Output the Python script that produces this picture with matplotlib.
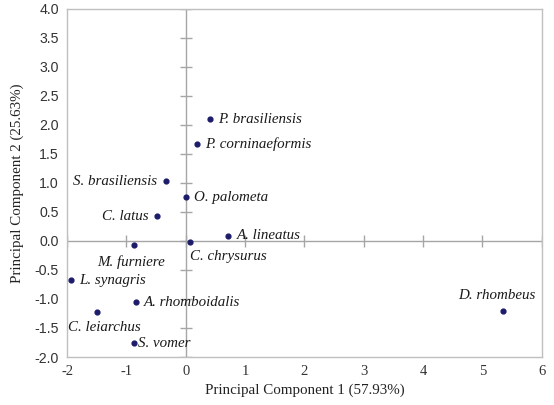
import matplotlib
matplotlib.use("Agg")
import matplotlib.pyplot as plt
import numpy as np

# species scores on the first two principal components
species = ["P. brasiliensis", "P. corninaeformis", "S. brasiliensis", "O. palometa",
           "C. latus", "A. lineatus", "M. furniere", "C. chrysurus", "L. synagris",
           "A. rhomboidalis", "C. leiarchus", "S. vomer", "D. rhombeus"]
pc1 = [0.41, 0.19, -0.34, 0.00, -0.48, 0.72, -0.88, 0.07, -1.93, -0.84, -1.49, -0.88, 5.34]
pc2 = [2.09, 1.66, 1.03, 0.75, 0.42, 0.09, -0.08, -0.02, -0.68, -1.06, -1.23, -1.76, -1.20]

# where each label sits relative to its point (offset in points, ha, va)
label_pos = {
    "P. brasiliensis": (6, 0, "left", "center"),
    "P. corninaeformis": (6, 0, "left", "center"),
    "S. brasiliensis": (-6, 0, "right", "center"),
    "O. palometa": (6, 0, "left", "center"),
    "C. latus": (-6, 0, "right", "center"),
    "A. lineatus": (6, 0, "left", "center"),
    "M. furniere": (-2, -7, "center", "top"),
    "C. chrysurus": (0, -6, "left", "top"),
    "L. synagris": (6, 0, "left", "center"),
    "A. rhomboidalis": (6, 0, "left", "center"),
    "C. leiarchus": (-21, -6, "left", "top"),
    "S. vomer": (3, 0, "left", "center"),
    "D. rhombeus": (-4, 6, "center", "bottom"),
}

xticks = np.arange(-2, 7, 1)
yticks = np.arange(-2.0, 4.5, 0.5)

fig = plt.figure(figsize=(5.54, 4.05), dpi=100)
ax = fig.add_axes([0.121, 0.1185, 0.857, 0.8605])

ax.set_xlim(-2, 6)
ax.set_ylim(-2, 4)

# cross through origin with small tick marks
ax.axhline(0, color="#a6a6a6", lw=1, zorder=1)
ax.axvline(0, color="#a6a6a6", lw=1, zorder=1)
ax.plot(xticks, np.zeros_like(xticks), ls="none", marker="|", ms=8, mew=1, color="#a6a6a6", zorder=1)
ax.plot(np.zeros_like(yticks), yticks, ls="none", marker="_", ms=8, mew=1, color="#a6a6a6", zorder=1)

ax.scatter(pc1, pc2, s=12, color="#1c1c6b", zorder=3)

for name, x, y in zip(species, pc1, pc2):
    dx, dy, ha, va = label_pos[name]
    ax.annotate(name, (x, y), xytext=(dx, dy), textcoords="offset points",
                ha=ha, va=va, fontsize=10.8, family="Liberation Serif",
                style="italic", color="#1a1a1a")

ax.set_xticks(xticks)
ax.set_yticks(yticks)
ax.set_xticklabels([str(v) for v in xticks], family="Liberation Serif", fontsize=10.5)
ax.set_yticklabels(["%.1f" % v for v in yticks], family="Liberation Sans", fontsize=10.2)
ax.tick_params(length=0, pad=6, colors="#333333")
for lbl in ax.get_yticklabels():
    lbl.set_va("center_baseline")

for s in ax.spines.values():
    s.set_color("#bfbfbf")
    s.set_linewidth(1)

ax.set_xlabel("Principal Component 1 (57.93%)", family="Liberation Serif", fontsize=10.8, color="#222222")
ax.set_ylabel("Principal Component 2 (25.63%)", family="Liberation Serif", fontsize=10.8,
              color="#222222", labelpad=7)

fig.savefig("out.png", dpi=100)
